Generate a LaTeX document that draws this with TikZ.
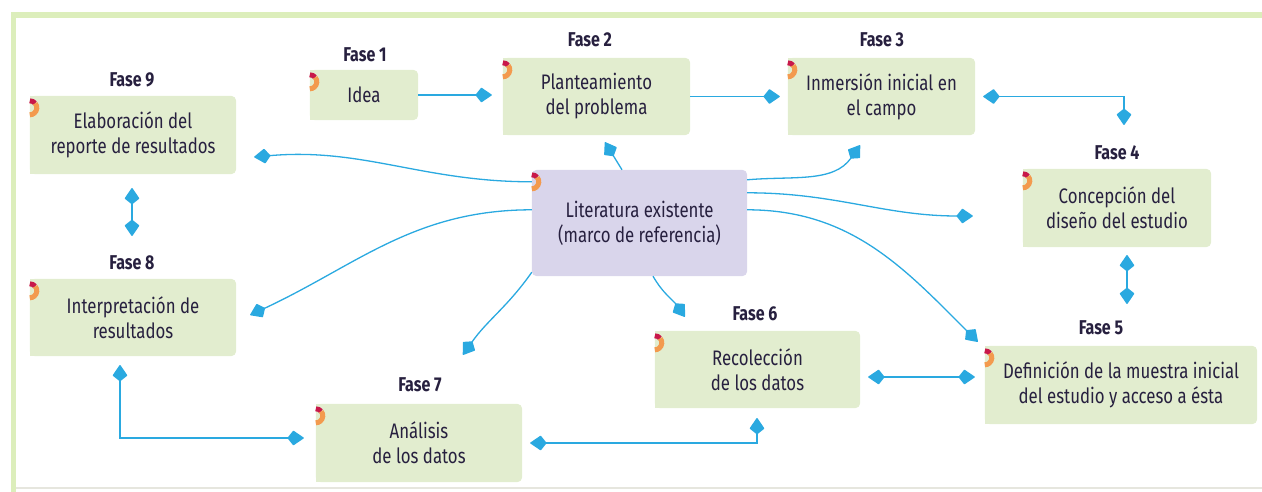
\documentclass[tikz,border=0pt]{standalone}
\usepackage{fontspec}
\setmainfont{Fira Sans}[FakeStretch=0.8]
\usetikzlibrary{arrows.meta}
\pgfdeclarelayer{background}
\pgfsetlayers{background,main}
\definecolor{boxgreen}{HTML}{E2EDCF}
\definecolor{litviolet}{HTML}{D9D5EB}
\definecolor{arrowblue}{HTML}{2AA9E0}
\definecolor{framegreen}{HTML}{DCEEBB}
\definecolor{framegray}{HTML}{E6E6DE}
\definecolor{txt}{HTML}{27203F}
\definecolor{mcrimson}{HTML}{C8184A}
\definecolor{morange}{HTML}{F39A4E}
\newcommand\boxbg[1]{%
  \begin{pgfonlayer}{background}
  \fill[boxgreen, rounded corners=5pt] (#1.south west) rectangle (#1.north east);
  \fill[boxgreen] (#1.south west) rectangle (#1.north);
  \end{pgfonlayer}}
\newcommand\phmark[1]{%
  \draw[mcrimson, line width=5pt] ([yshift=-12pt]#1.north west) ++(90:7) arc (90:40:7);
  \draw[morange, line width=5pt] ([yshift=-12pt]#1.north west) ++(40:7) arc (40:-90:7);}
\tikzset{
  phase/.style={inner sep=0pt, align=center, text=txt, font=\fontsize{21}{25}\selectfont},
  fase/.style={inner sep=0pt, text=txt, font=\fontsize{20}{25}\selectfont\bfseries},
  tip/.tip={Kite[length=17pt,width=15pt,inset=6pt,round]},
  conn/.style={draw=arrowblue, line width=1.3pt, -tip},
  dconn/.style={draw=arrowblue, line width=1.3pt, tip-tip},
}
\begin{document}
\begin{tikzpicture}[x=1pt,y=1pt]
\useasboundingbox (0,0) rectangle (1262,491);
% frame
\draw[framegreen, line width=5.5pt] (1270,476) -- (13.5,476) -- (13.5,-5);
\draw[framegray, line width=2pt] (16,3) -- (1270,3);

% nodes
\node[phase, minimum width=108pt, minimum height=50pt] (p1) at (364,396) {Idea};
\node[phase, minimum width=187pt, minimum height=77pt] (p2) at (596.5,394.5) {Planteamiento\\del problema};
\node[phase, minimum width=187pt, minimum height=77pt] (p3) at (881.5,394.5) {Inmersión inicial en\\el campo};
\node[phase, minimum width=188pt, minimum height=78pt] (p4) at (1117,283) {Concepción del\\diseño del estudio};
\node[phase, minimum width=272pt, minimum height=78pt] (p5) at (1121,106) {Definición de la muestra inicial\\del estudio y acceso a ésta};
\node[phase, minimum width=205pt, minimum height=77pt] (p6) at (757.5,121.5) {Recolección\\de los datos};
\node[phase, minimum width=206pt, minimum height=78pt] (p7) at (419,48) {Análisis\\de los datos};
\node[phase, minimum width=206pt, minimum height=77pt] (p8) at (133,173.5) {Interpretación de\\resultados};
\node[phase, minimum width=206pt, minimum height=78pt] (p9) at (133,356) {Elaboración del\\reporte de resultados};
\node[phase, minimum width=215pt, minimum height=106pt] (lit) at (639.5,268) {Literatura existente\\(marco de referencia)};

\begin{pgfonlayer}{background}
\fill[litviolet, rounded corners=5pt] (lit.south west) rectangle (lit.north east);
\end{pgfonlayer}
\boxbg{p1}\boxbg{p2}\boxbg{p3}\boxbg{p4}\boxbg{p5}\boxbg{p6}\boxbg{p7}\boxbg{p8}\boxbg{p9}
\phmark{p1}\phmark{p2}\phmark{p3}\phmark{p4}\phmark{p5}\phmark{p6}\phmark{p7}\phmark{p8}\phmark{p9}\phmark{lit}

% labels
\node[fase] (f1) at (365,436) {Fase 1};
\node[fase] (f2) at (590,451) {Fase 2};
\node[fase] (f3) at (882,451) {Fase 3};
\node[fase] (f4) at (1117,338) {Fase 4};
\node[fase] (f5) at (1101,163) {Fase 5};
\node[fase] (f6) at (755,177) {Fase 6};
\node[fase] (f7) at (420,106) {Fase 7};
\node[fase] (f8) at (132,228) {Fase 8};
\node[fase] (f9) at (132,411) {Fase 9};

% sequence connectors
\draw[conn, shorten >=11pt] (p1.east) -- (p1.east -| p2.west);
\draw[conn, shorten >=8pt] (p2.east) -- (p2.east -| p3.west);
\coordinate (c34) at (1124,366);
\draw[dconn, shorten <=8pt] (p3.east) -| (c34);
\coordinate (c4a) at (1127,236);
\coordinate (c5a) at (1127,187);
\draw[dconn] (c4a) -- (c5a);
\draw[dconn, shorten <=8pt, shorten >=10pt] (p6.east |- 0,114) -- (p5.west |- 0,114);
\coordinate (c67) at (757,73);
\draw[dconn, shorten <=8pt] (p7.east) -| (c67);
\coordinate (c78) at (120,126);
\draw[dconn, shorten <=12pt] (p7.west |- 0,53) -| (c78);
\coordinate (c8a) at (132,303);
\coordinate (c9a) at (132,255);
\draw[dconn] (c8a) -- (c9a);

% literature connectors
\draw[conn] ([xshift=-17.5pt]lit.north) -- ([shift={(8.5,-7)}]p2.south);
\draw[conn] ([yshift=-10pt]lit.north east) to[out=5,in=-125] ([shift={(-21.5,-10)}]p3.south);
\draw[conn] ([yshift=-23pt]lit.north east) to[out=0,in=180] ([shift={(-50,-8)}]p4.west);
\draw[conn] ([yshift=-40pt]lit.north east) to[out=0,in=135] ([shift={(-7,4)}]p5.north west);
\draw[conn] ([xshift=13.5pt]lit.south) to[out=-60,in=125] ([shift={(30,14)}]p6.north west);
\draw[conn] ([yshift=4pt]lit.south west) to[out=-125,in=55] ([shift={(44,49)}]p7.north);
\draw[conn] ([yshift=-40pt]lit.north west) to[out=180,in=25] ([shift={(14,2.5)}]p8.east);
\draw[conn] ([yshift=-12pt]lit.north west) to[out=180,in=5] ([shift={(18,-22)}]p9.east);
\end{tikzpicture}
\end{document}
